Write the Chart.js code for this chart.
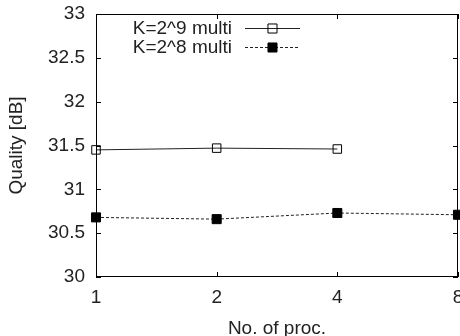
<!DOCTYPE html>
<html>
<head>
<meta charset="utf-8">
<script src="https://cdn.jsdelivr.net/npm/chart.js@4/dist/chart.umd.min.js"></script>
<style>
  html, body { margin: 0; padding: 0; background: #fff; }
  #wrap { width: 460px; height: 336px; }
</style>
</head>
<body>
<div id="wrap"><canvas id="chart"></canvas></div>
<script>
// values
const procs = [1, 2, 4, 8];
const k9Multi = [31.45, 31.47, 31.46, null];
const k8Multi = [30.68, 30.66, 30.73, 30.71];
const yTicks = [30, 30.5, 31, 31.5, 32, 32.5, 33];
const seriesLabels = ['K=2^9 multi', 'K=2^8 multi'];

const FONT = 'Liberation Sans, Arial, Helvetica, sans-serif';
const INK = '#222';

function toPoints(ys) {
    return procs.map((x, i) => ({ x: x, y: ys[i] })).filter(p => p.y !== null);
}

// gnuplot style frame: box + inward ticks on all four sides
const framePlugin = {
    id: 'frame',
    afterDraw(chart) {
        const { ctx, chartArea: a, scales } = chart;
        const len = 5;
        ctx.save();
        ctx.strokeStyle = '#000';
        ctx.lineWidth = 1;
        ctx.strokeRect(a.left + 0.5, a.top + 0.5, a.right - a.left - 1, a.bottom - a.top - 1);
        ctx.beginPath();
        yTicks.forEach(v => {
            const y = Math.round(scales.y.getPixelForValue(v)) + 0.5;
            ctx.moveTo(a.left, y); ctx.lineTo(a.left + len, y);
            ctx.moveTo(a.right, y); ctx.lineTo(a.right - len, y);
        });
        procs.forEach(v => {
            const x = Math.round(scales.x.getPixelForValue(v)) + 0.5;
            ctx.moveTo(x, a.top); ctx.lineTo(x, a.top + len);
            ctx.moveTo(x, a.bottom); ctx.lineTo(x, a.bottom - len);
        });
        ctx.stroke();
        ctx.restore();
    }
};

// key in the upper left: text first, then line sample with marker
const keyPlugin = {
    id: 'key',
    afterDraw(chart) {
        const { ctx, chartArea: a } = chart;
        const textRight = a.left + 136;
        const x0 = a.left + 149, x1 = a.left + 204;
        ctx.save();
        ctx.font = '19px ' + FONT;
        ctx.textAlign = 'right';
        ctx.textBaseline = 'middle';
        chart.data.datasets.forEach((ds, i) => {
            const y = a.top + 14 + i * 19;
            ctx.fillStyle = INK;
            ctx.fillText(ds.label, textRight, y + 1);
            ctx.beginPath();
            ctx.strokeStyle = ds.borderColor;
            ctx.lineWidth = ds.borderWidth;
            ctx.setLineDash(ds.borderDash || []);
            ctx.moveTo(x0, y + 0.5); ctx.lineTo(x1, y + 0.5);
            ctx.stroke();
            ctx.setLineDash([]);
            ctx.fillStyle = ds.pointBackgroundColor;
            ctx.strokeStyle = '#000';
            ctx.lineWidth = 1;
            Chart.helpers.drawPoint(ctx, {
                pointStyle: 'rect',
                radius: 6.4,
                borderWidth: 1
            }, (x0 + x1) / 2, y + 0.5);
        });
        ctx.restore();
    }
};

new Chart(document.getElementById('chart'), {
    type: 'line',
    data: {
        datasets: [
            {
                label: seriesLabels[0],
                data: toPoints(k9Multi),
                borderColor: '#222',
                borderWidth: 1,
                pointStyle: 'rect',
                pointRadius: 6,
                pointBorderWidth: 1,
                pointBorderColor: '#000',
                pointBackgroundColor: 'rgba(0,0,0,0)',
                clip: false
            },
            {
                label: seriesLabels[1],
                data: toPoints(k8Multi),
                borderColor: '#222',
                borderWidth: 1,
                borderDash: [3, 2],
                pointStyle: 'rect',
                pointRadius: 6.4,
                pointBorderWidth: 1,
                pointBorderColor: '#000',
                pointBackgroundColor: '#000',
                clip: false
            }
        ]
    },
    options: {
        responsive: true,
        maintainAspectRatio: false,
        animation: false,
        layout: { autoPadding: false, padding: { left: 0, right: 2, top: 14, bottom: 0 } },
        plugins: {
            legend: { display: false },
            tooltip: { enabled: false }
        },
        scales: {
            x: {
                type: 'logarithmic',
                min: 1,
                max: 8,
                afterBuildTicks: (scale) => { scale.ticks = procs.map(v => ({ value: v })); },
                afterFit: (scale) => {
                    scale.height = 59;
                    scale.paddingLeft = 0;
                    scale.paddingRight = 0;
                },
                grid: { display: false, drawTicks: false },
                border: { display: false },
                ticks: {
                    autoSkip: false,
                    maxRotation: 0,
                    padding: 9,
                    color: INK,
                    font: { family: FONT, size: 19 },
                    callback: (v) => String(v)
                },
                title: {
                    display: true,
                    text: 'No. of proc.',
                    color: INK,
                    padding: { top: 0, bottom: 0 },
                    font: { family: FONT, size: 19, lineHeight: 0.78 }
                }
            },
            y: {
                type: 'linear',
                min: 30,
                max: 33,
                afterBuildTicks: (scale) => { scale.ticks = yTicks.map(v => ({ value: v })); },
                afterFit: (scale) => {
                    scale.width = 96;
                    scale.paddingTop = 0;
                    scale.paddingBottom = 0;
                },
                grid: { display: false, drawTicks: false },
                border: { display: false },
                ticks: {
                    padding: 11,
                    color: INK,
                    font: { family: FONT, size: 19 },
                    callback: (v) => String(v)
                },
                title: {
                    display: true,
                    text: 'Quality [dB]',
                    color: INK,
                    padding: { top: 5.6, bottom: 0 },
                    font: { family: FONT, size: 19 }
                }
            }
        }
    },
    plugins: [framePlugin, keyPlugin]
});
</script>
</body>
</html>
